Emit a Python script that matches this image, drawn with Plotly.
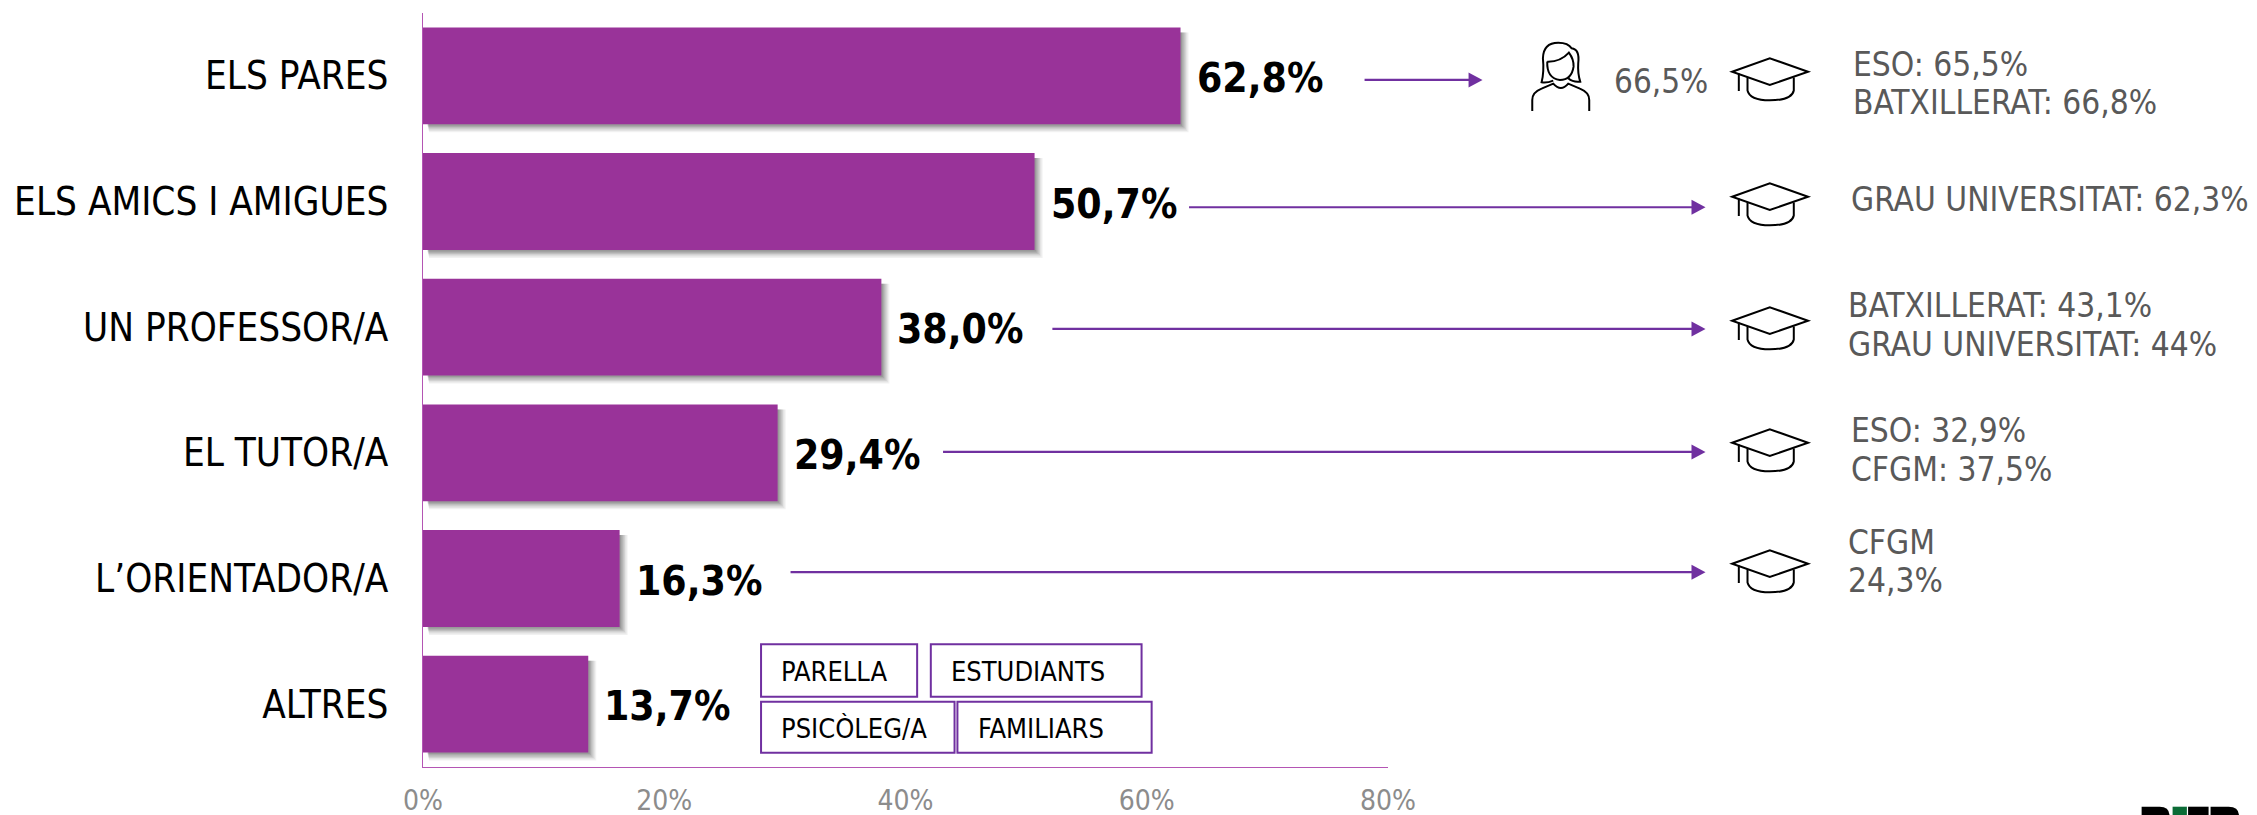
import plotly.graph_objects as go

W, H = 2257, 815
L, R, T, B = 422.5, 1388, 13, 767
FONT = "DejaVu Sans Condensed, DejaVu Sans"

categories = ["ELS PARES", "ELS AMICS I AMIGUES", "UN PROFESSOR/A", "EL TUTOR/A", "L’ORIENTADOR/A", "ALTRES"]
values = [62.8, 50.7, 38.0, 29.4, 16.3, 13.7]
value_labels = ["62,8%", "50,7%", "38,0%", "29,4%", "16,3%", "13,7%"]
tick_values = [0, 20, 40, 60, 80]
tick_labels = ["0%", "20%", "40%", "60%", "80%"]
breakdown_lines = [
    ["ESO: 65,5%", "BATXILLERAT: 66,8%"],
    ["GRAU UNIVERSITAT: 62,3%"],
    ["BATXILLERAT: 43,1%", "GRAU UNIVERSITAT: 44%"],
    ["ESO: 32,9%", "CFGM: 37,5%"],
    ["CFGM", "24,3%"],
]
woman_label = "66,5%"
other_labels = ["PARELLA", "ESTUDIANTS", "PSICÒLEG/A", "FAMILIARS"]

BAR = "#993399"
ARROW = "#7030A0"
AXIS = "#B455B4"
GREY = "#595959"

px = lambda x: (x - L) / (R - L)
py = lambda y: (B - y) / (B - T)
PXX = lambda x: x * 1.4394   # shrunk-picture coordinate to page pixel

fig = go.Figure(go.Bar(
    x=values, y=categories, orientation="h", marker=dict(color=BAR, line_width=0),
    width=0.77, hoverinfo="skip", showlegend=False,
))

shapes, ann = [], []


def pshape(path, **kw):
    shapes.append(dict(type="path", path=path, xref="paper", yref="paper", **kw))


def P(points):
    out = []
    for tok in points:
        if isinstance(tok, str):
            out.append(tok)
        else:
            out.append(f"{px(tok[0]):.5f},{py(tok[1]):.5f}")
    return " ".join(out)


# bar shadows
ux = (R - L) / 80
uy = (B - T) / 6
for i, v in enumerate(values):
    for k, a in [(0, .07), (1, .08), (2, .10), (3, .12), (4, .14), (5, .16)]:
        ext = 8 - k * 1.3
        shapes.append(dict(type="rect", xref="x", yref="y", layer="below",
                           x0=(6 - k * .3) / ux, x1=v + ext / ux,
                           y0=i - .385 + 5 / uy, y1=i + .385 + ext / uy,
                           line_width=0, fillcolor=f"rgba(60,60,60,{a})"))

# value labels
for c, v, t in zip(categories, values, value_labels):
    ann.append(dict(x=v, y=c, xref="x", yref="y", text=f"<b>{t}</b>", showarrow=False,
                    xanchor="left", yanchor="middle", xshift=14, yshift=-2,
                    font=dict(family=FONT, size=40.5, color="#000000")))

# arrows
arrow_spans = [(948, 1030, 55.5), (826, 1185, 144), (731, 1185, 228.5), (655, 1185, 314), (549, 1185, 397.5)]
for x0, x1, y in arrow_spans:
    x0, x1, y = PXX(x0), PXX(x1), PXX(y)
    shapes.append(dict(type="line", xref="paper", yref="paper", x0=px(x0), x1=px(x1 - 10),
                       y0=py(y), y1=py(y), line=dict(color=ARROW, width=2.2)))
    pshape(P(["M", (x1, y), "L", (x1 - 14, y - 7.5), "L", (x1 - 14, y + 7.5), "Z"]),
           fillcolor=ARROW, line_width=0)

# mortarboard icons
ICON = dict(color="#000000", width=2)
for dy in [1, 126, 250, 372, 493]:
    S = lambda x, y: (x, y + dy)
    pshape(P(["M", S(1732.3, 70.7), "L", S(1770, 57.3), "L", S(1808.3, 70.7), "L", S(1770, 84), "Z"]),
           line=ICON, fillcolor="rgba(0,0,0,0)")
    pshape(P(["M", S(1747.7, 76.5), "L", S(1747.7, 89.5), "Q", S(1750, 99.3), S(1770, 99.3),
              "Q", S(1792, 99.3), S(1794, 89.5), "L", S(1794, 76.5)]),
           line=ICON, fillcolor="rgba(0,0,0,0)")
    pshape(P(["M", S(1739, 72.5), "L", S(1739, 90)]), line=ICON, fillcolor="rgba(0,0,0,0)")

# woman icon
Z = lambda x, y: (1500 + x / 3, 30 + y / 3)
for pts in [
    ["M", Z(97, 243), "L", Z(97, 210), "Q", Z(97, 187), Z(125, 176), "L", Z(160, 161),
     "Q", Z(183, 187), Z(205, 161), "L", Z(240, 176), "Q", Z(268, 187), Z(268, 210), "L", Z(268, 243)],
    ["M", Z(160, 152), "Q", Z(140, 160), Z(125, 157), "Q", Z(133, 125), Z(129, 85),
     "Q", Z(130, 38), Z(175, 38), "Q", Z(205, 38), Z(215, 55), "Q", Z(240, 58), Z(235, 100),
     "Q", Z(233, 130), Z(241, 155), "Q", Z(220, 158), Z(205, 145)],
    ["M", Z(142, 95), "Q", Z(182, 96), Z(207, 68), "Q", Z(222, 88), Z(221, 110),
     "Q", Z(215, 150), Z(180, 150), "Q", Z(140, 145), Z(142, 95)],
]:
    pshape(P(pts), line=ICON, fillcolor="rgba(0,0,0,0)")


def text(x, y, s, size, color=GREY):
    ann.append(dict(x=px(x), y=py(y), xref="paper", yref="paper", text=s, showarrow=False,
                    xanchor="left", yanchor="middle", font=dict(family=FONT, size=size, color=color)))


text(PXX(1120), PXX(56.5), woman_label, 33)
line_y = [[45, 71], [138.5], [212, 239], [299, 326], [377, 403]]
line_x = [1286, 1285, 1282.5, 1285, 1282.5]
for lines, ys, x in zip(breakdown_lines, line_y, line_x):
    for s, y in zip(lines, ys):
        text(PXX(x), PXX(y), s, 33.2)

# boxes for the "others" breakdown
boxes = [(528.5, 637, 447.5, 484, 541), (646.5, 793, 447.5, 484, 659), (528.5, 663, 487.5, 523, 541), (665, 800, 487.5, 523, 678)]
for (x0, x1, y0, y1, tx), s in zip(boxes, other_labels):
    shapes.append(dict(type="rect", xref="paper", yref="paper", x0=px(PXX(x0)), x1=px(PXX(x1)),
                       y0=py(PXX(y0)), y1=py(PXX(y1)), line=dict(color=ARROW, width=2), fillcolor="white"))
    text(PXX(tx), PXX((y0 + y1) / 2 + 1), s, 27, "#000000")

# partially cropped logo at the page's lower edge
TOP, BOT = 806.7, 816
pshape(P(["M", (2142, BOT), "L", (2142, TOP), "L", (2160, TOP), "Q", (2170, TOP), (2170, BOT), "Z"]),
       fillcolor="#000000", line_width=0)
pshape(P(["M", (2173, BOT), "L", (2173, TOP), "L", (2187.3, TOP), "L", (2187.3, BOT), "Z"]),
       fillcolor="#0B6B36", line_width=0)
pshape(P(["M", (2188.5, BOT), "L", (2188.5, TOP), "L", (2209, TOP), "L", (2209, BOT), "Z"]),
       fillcolor="#000000", line_width=0)
pshape(P(["M", (2211, BOT), "L", (2211, TOP), "L", (2229, TOP), "Q", (2239.5, TOP), (2239.5, BOT), "Z"]),
       fillcolor="#000000", line_width=0)

fig.update_layout(
    width=W, height=H, autosize=False, paper_bgcolor="white", plot_bgcolor="white",
    margin=dict(l=L, r=W - R, t=T, b=H - B, pad=0, autoexpand=False),
    shapes=shapes, annotations=ann, showlegend=False,
    font=dict(family=FONT),
    xaxis=dict(range=[0, 80], tickmode="array", tickvals=tick_values, ticktext=tick_labels,
               showgrid=False, zeroline=False, showline=True, linecolor=AXIS, linewidth=1,
               automargin=False,
               ticks="", ticklabelstandoff=8, tickfont=dict(family=FONT, size=28, color="#8C8C8C")),
    yaxis=dict(categoryorder="array", categoryarray=categories, range=[5.5, -0.5],
               showgrid=False, zeroline=False, showline=True, linecolor=AXIS, linewidth=1,
               automargin=False,
               ticks="", ticklabelstandoff=26, tickfont=dict(family=FONT, size=38.3, color="#000000")),
)
fig.write_html("out.html", config={"displayModeBar": False},
               post_script="document.body.style.margin='0';document.body.style.overflow='hidden';")
